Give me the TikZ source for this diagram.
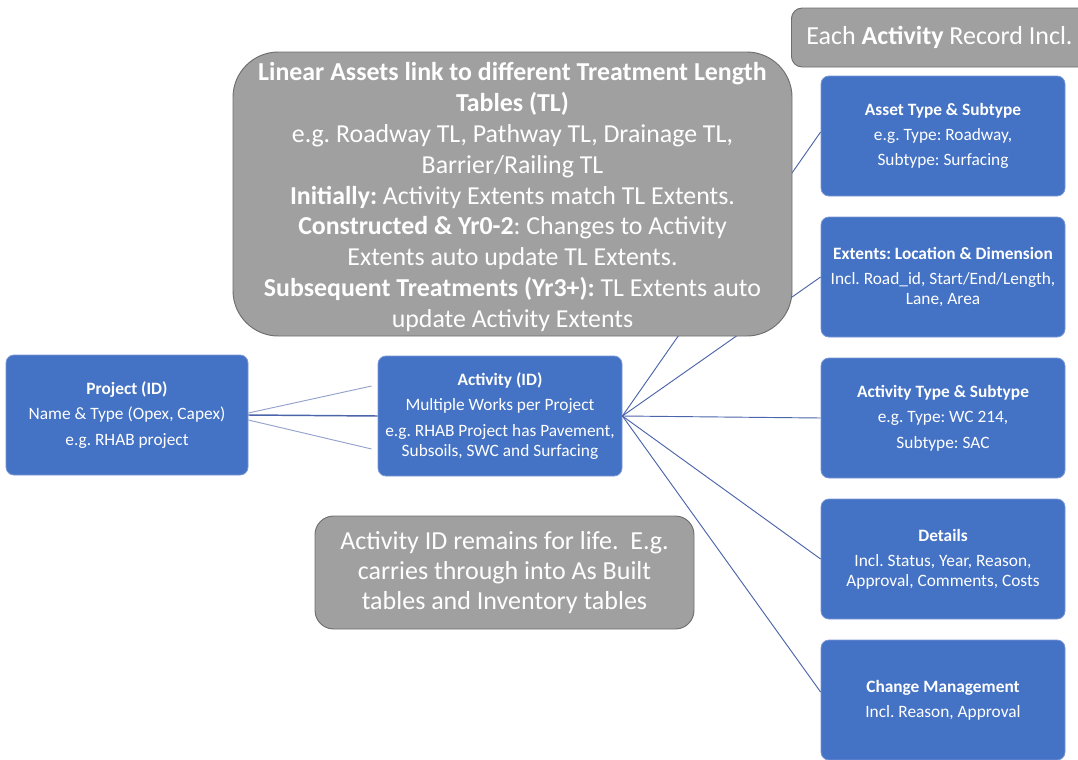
\documentclass[tikz,border=0pt]{standalone}
\usepackage{fontspec}
\setmainfont{Carlito}
\frenchspacing
\usetikzlibrary{calc}
\definecolor{boxblue}{RGB}{68,114,196}
\definecolor{boxedge}{RGB}{120,150,215}
\definecolor{calgray}{RGB}{160,160,160}
\definecolor{caledge}{RGB}{110,110,110}
\definecolor{linkblue}{RGB}{75,100,170}
\tikzset{
  bluebox/.style={fill=boxblue, draw=boxedge, line width=0.6pt, rounded corners=6pt,
    text=white, align=center, minimum width=244*0.75pt, minimum height=120*0.75pt,
    font=\fontsize{13}{15}\selectfont, inner sep=2pt},
  graycall/.style={fill=calgray, draw=caledge, line width=0.7pt, text=white, align=center, inner sep=2pt},
  link/.style={draw=linkblue, line width=0.7pt},
}
\begin{document}
\begin{tikzpicture}[x=0.75pt,y=-0.75pt]
\useasboundingbox (0,0) rectangle (1078,760);
% blue boxes
\node[bluebox, minimum width=242*0.75pt] (proj) at (127,415) {\textbf{Project (ID)}\\[4pt] Name \& Type (Opex, Capex)\\[4pt] e.g. RHAB project};
\node[bluebox] (act) at (500,416) {\textbf{Activity (ID)}\\[4pt] Multiple Works per Project\\[4pt] e.g. RHAB Project has Pavement,\\ Subsoils, SWC and Surfacing};
\node[bluebox] (r1) at (943,136) {\textbf{Asset Type \& Subtype}\\[4pt] e.g. Type: Roadway,\\[4pt] Subtype: Surfacing};
\node[bluebox] (r2) at (943,277) {\textbf{Extents: Location \& Dimension}\\[4pt] Incl. Road\_id, Start/End/Length,\\ Lane, Area};
\node[bluebox] (r3) at (943,418) {\textbf{Activity Type \& Subtype}\\[4pt] e.g. Type: WC 214,\\[4pt] Subtype: SAC};
\node[bluebox] (r4) at (943,559) {\textbf{Details}\\[4pt] Incl. Status, Year, Reason,\\ Approval, Comments, Costs};
\node[bluebox] (r5) at (943,700) {\textbf{Change Management}\\[4pt] Incl. Reason, Approval};
% connectors
\draw[link, line width=1.1pt] (proj.east) -- (act.west);
\draw[link, draw=linkblue!60] ($(proj.east)+(0,-2)$) -- ($(act.west)+(-6,-30)$);
\draw[link, draw=linkblue!60] ($(proj.east)+(0,5)$) -- ($(act.west)+(-6,33)$);
\draw[link] (act.east) -- ($(r1.west)+(0,-4)$);
\draw[link] (act.east) -- (r2.west);
\draw[link] (act.east) -- (r3.west);
\draw[link] (act.east) -- (r4.west);
\draw[link] (act.east) -- ($(r5.west)+(0,-8)$);
% gray callouts
\node[graycall, rounded corners=34pt, minimum width=559*0.75pt, minimum height=284*0.75pt,
  font=\fontsize{19.4}{23.2}\selectfont] (tl) at (512.5,194) {};
\node[text=white, align=center, font=\fontsize{19.4}{23.2}\selectfont, inner sep=0pt] (tltext) at (512.5,197)
  {\textbf{Linear Assets link to different Treatment Length}\\ \textbf{Tables (TL)}\\
   e.g. Roadway TL, Pathway TL, Drainage TL,\\ Barrier/Railing TL\\
   \textbf{Initially:} Activity Extents match TL Extents.\\
   \textbf{Constructed \& Yr0-2}: Changes to Activity\\ Extents auto update TL Extents.\\
   \textbf{Subsequent Treatments (Yr3+):} TL Extents auto\\ update Activity Extents};
\node[graycall, rounded corners=14pt, minimum width=379*0.75pt, minimum height=113*0.75pt,
  font=\fontsize{19.5}{22.5}\selectfont] (life) at (504.5,572.5)
  {Activity ID remains for life.\ \ E.g.\\ carries through into As Built\\ tables and Inventory tables};
\node[graycall, rounded corners=8pt, minimum width=304*0.75pt, minimum height=59*0.75pt,
  font=\fontsize{19.5}{22}\selectfont, anchor=west, align=left, inner xsep=15*0.75pt] (each) at (791,37.5)
  {Each \textbf{Activity} Record Incl.\hspace{30pt}};
\end{tikzpicture}
\end{document}
